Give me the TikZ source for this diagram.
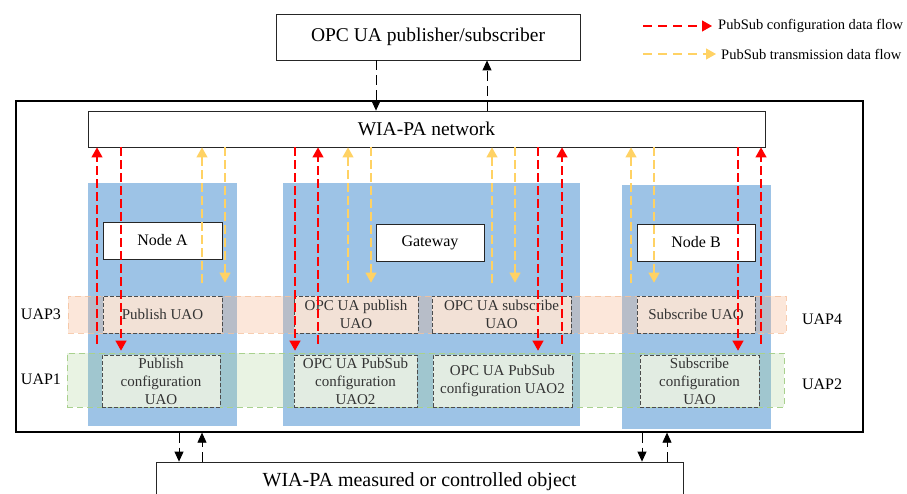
\documentclass[tikz,border=0pt]{standalone}
\usepackage{fontspec}
\setmainfont{Liberation Serif}
\usetikzlibrary{arrows.meta}
\definecolor{colblue}{RGB}{157,195,230}
\definecolor{bandor}{RGB}{244,177,131}
\definecolor{bandgr}{RGB}{169,209,142}
\definecolor{boxor}{RGB}{242,225,214}
\definecolor{boxgr}{RGB}{226,236,226}
\definecolor{cfgred}{RGB}{255,0,0}
\definecolor{txyel}{RGB}{255,210,100}
\tikzset{
  wbox/.style={draw=black!85, fill=white, line width=0.8pt, inner sep=0pt, font=\fontsize{16}{19}\selectfont},
  colbox/.style={fill=colblue, draw=none, inner sep=0pt},
  band/.style={inner sep=0pt, dashed, dash pattern=on 6pt off 4pt, line width=0.7pt},
  uaobox/.style={draw=black!70, dashed, dash pattern=on 4pt off 2pt, line width=0.7pt, inner sep=0pt, text=black!80, align=center, font=\fontsize{15}{18}\selectfont},
  cfgarrow/.style={draw=cfgred, line width=1.1pt, dash pattern=on 9pt off 4pt, -{Triangle[width=11pt,length=10pt,fill=cfgred]}},
  txarrow/.style={draw=txyel, line width=1.1pt, dash pattern=on 9pt off 4pt, -{Triangle[width=11pt,length=10pt,fill=txyel]}},
  blkarrow/.style={draw=black, line width=0.8pt, dash pattern=on 10pt off 5pt, -{Triangle[width=9pt,length=10pt]}},
  lbl/.style={font=\fontsize{16}{19}\selectfont, inner sep=0pt}
}
\begin{document}
\begin{tikzpicture}[x=1pt,y=-1pt]
\useasboundingbox (0,0) rectangle (907,494);
% top and outer boxes
\node[wbox, minimum width=304pt, minimum height=46pt, font=\fontsize{19.5}{23}\selectfont] (pubsub) at (428,37) {OPC UA publisher/subscriber};
\node[draw=black, line width=1.3pt, minimum width=847pt, minimum height=331pt, inner sep=0pt] (outer) at (439.5,266.5) {};
\node[wbox, minimum width=677pt, minimum height=36pt, font=\fontsize{19.5}{23}\selectfont] (wia) at (426.5,129) {WIA-PA network};
% columns
\node[colbox, minimum width=149pt, minimum height=243pt] (colA) at (162.5,304.5) {};
\node[colbox, minimum width=297pt, minimum height=243pt] (colG) at (431.5,304.5) {};
\node[colbox, minimum width=149pt, minimum height=244pt] (colB) at (696.5,307) {};
% white device boxes
\node[wbox, minimum width=119pt, minimum height=37pt] (nodeA) at (162.5,240.5) {Node A};
\node[wbox, minimum width=108pt, minimum height=37pt] (gw) at (430,242.5) {Gateway};
\node[wbox, minimum width=118pt, minimum height=37pt] (nodeB) at (696,242.5) {Node B};
% bands
\node[band, draw=bandor!80, fill=bandor, fill opacity=0.3, draw opacity=0.8, minimum width=718pt, minimum height=37pt] (band3) at (427,314.5) {};
\node[band, draw=bandgr, fill=bandgr, fill opacity=0.25, minimum width=717pt, minimum height=54pt] (band1) at (425.5,380) {};
% UAP3/4 boxes
\node[uaobox, fill=boxor, minimum width=119pt, minimum height=37pt] (pu) at (162.5,314.5) {Publish UAO};
\node[uaobox, fill=boxor, minimum width=124pt, minimum height=37pt] (opu) at (356,314.5) {OPC UA publish\\UAO};
\node[uaobox, fill=boxor, minimum width=139pt, minimum height=37pt] (osu) at (501.5,314.5) {OPC UA subscribe\\UAO};
\node[uaobox, fill=boxor, minimum width=118pt, minimum height=37pt] (su) at (696,314.5) {Subscribe UAO};
% UAP1/2 boxes
\node[uaobox, fill=boxgr, minimum width=118pt, minimum height=52pt] (pcfg) at (161,381) {Publish\\configuration\\UAO};
\node[uaobox, fill=boxgr, minimum width=123pt, minimum height=52pt] (ocfga) at (355.5,381) {OPC UA PubSub\\configuration\\UAO2};
\node[uaobox, fill=boxgr, minimum width=139pt, minimum height=52pt] (ocfgb) at (502.5,381) {OPC UA PubSub\\configuration UAO2};
\node[uaobox, fill=boxgr, minimum width=119pt, minimum height=52pt] (scfg) at (699.5,381) {Subscribe\\configuration\\UAO};
% labels
\node[lbl] (uap3) at (41,314) {UAP3};
\node[lbl] (uap1) at (41,379) {UAP1};
\node[lbl] (uap4) at (822,319) {UAP4};
\node[lbl] (uap2) at (822,384) {UAP2};
% bottom box
\node[wbox, minimum width=527pt, minimum height=40pt, font=\fontsize{20}{23}\selectfont] (meas) at (419.5,482) {WIA-PA measured or controlled object};
% black arrows
\draw[blkarrow] (pubsub.south -| 376,0) -- (wia.north -| 376,0);
\draw[blkarrow] (wia.north -| 487,0) -- (pubsub.south -| 487,0);
\draw[blkarrow] (outer.south -| 179,0) -- (meas.north -| 179,0);
\draw[blkarrow] (meas.north -| 202,0) -- (outer.south -| 202,0);
\draw[blkarrow] (outer.south -| 642,0) -- (meas.north -| 642,0);
\draw[blkarrow] (meas.north -| 667,0) -- (outer.south -| 667,0);
% red configuration arrows
\foreach \xd in {121,295,538,738} {
  \draw[cfgarrow, shorten >=2pt] (wia.south -| \xd,0) -- (band1.north -| \xd,0);
}
\foreach \xu in {97,318,562,761} {
  \draw[cfgarrow, shorten <=9pt] (band1.north -| \xu,0) -- (wia.south -| \xu,0);
}
% yellow transmission arrows
\foreach \xd in {225,371,515,654} {
  \draw[txarrow, shorten >=13pt] (wia.south -| \xd,0) -- (band3.north -| \xd,0);
}
\foreach \xu in {202,348,492,631} {
  \draw[txarrow, shorten <=13pt] (band3.north -| \xu,0) -- (wia.south -| \xu,0);
}
% legend
\coordinate (l1a) at (643,26);
\coordinate (l1b) at (712,26);
\coordinate (l2a) at (643,54);
\coordinate (l2b) at (716,54);
\draw[cfgarrow, dash pattern=on 9pt off 6pt, line width=1.2pt] (l1a) -- (l1b);
\draw[txarrow, dash pattern=on 9pt off 6pt, line width=1.2pt] (l2a) -- (l2b);
\node[anchor=west, inner sep=0pt, font=\fontsize{14.5}{17}\selectfont] (leg1) at (718,26) {PubSub configuration data flow};
\node[anchor=west, inner sep=0pt, font=\fontsize{14.5}{17}\selectfont] (leg2) at (721,54) {PubSub transmission data flow};
\end{tikzpicture}
\end{document}
